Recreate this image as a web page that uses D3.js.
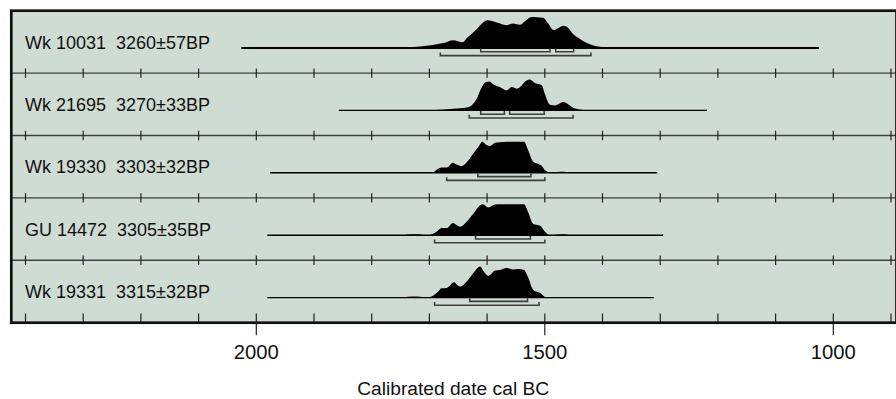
<!DOCTYPE html>
<html>
<head>
<meta charset="utf-8">
<script src="https://cdn.jsdelivr.net/npm/d3@7"></script>
<style>
  html, body { margin: 0; padding: 0; background: #ffffff; }
  svg { display: block; }
  text { font-family: "Liberation Sans", Arial, sans-serif; fill: #111; }
</style>
</head>
<body>
<svg id="chart" width="896" height="399"></svg>
<script>
// Radiocarbon samples, top to bottom
const labs = ["Wk 10031", "Wk 21695", "Wk 19330", "GU 14472", "Wk 19331"];
const ages = ["3260±57BP", "3270±33BP", "3303±32BP", "3305±35BP", "3315±32BP"];

// Calibrated probability curves: [year cal BC, relative probability]
const probWk10031 = [[1760,0],[1742,0.5],[1716,1.5],[1694,3],[1676,5],[1659,8],[1642,6],[1635,10.3],[1618,19.3],[1607,26],[1600,28.3],[1583,26],[1566,23.3],[1555,25],[1543,23.7],[1534,27.7],[1523,31.7],[1503,31],[1494,25],[1485,18.3],[1477,20.3],[1468,22.7],[1459,20.3],[1451,14.3],[1439,9.3],[1427,5],[1410,1.7],[1393,0.5],[1382,0]];
const probWk21695 = [[1700,0],[1690,0.3],[1659,1.7],[1635,3],[1627,5],[1618,11.7],[1609,23.3],[1602,28.3],[1596,29],[1589,26],[1578,23.3],[1566,20],[1557,23.3],[1549,21.7],[1540,25],[1533,29.3],[1526,31],[1517,27.3],[1505,25],[1500,16.7],[1491,5.7],[1482,5],[1468,8.3],[1459,6],[1451,2.7],[1436,0.7],[1422,0]];
const probWk19330 = [[1745,0],[1730,0.8],[1712,0.8],[1695,0],[1687,3.3],[1679,5.3],[1670,5.3],[1659,10],[1653,8.3],[1644,6.7],[1633,12],[1624,19.3],[1615,26],[1608,31],[1601,27.7],[1595,26.7],[1586,30],[1572,30.7],[1555,31],[1536,31],[1529,22.7],[1520,11],[1511,8.7],[1505,6.7],[1500,2.7],[1491,0.3],[1481,0.5],[1474,1],[1462,0.7],[1451,0]];
const probGU14472 = [[1745,0],[1730,1],[1716,0.8],[1703,0],[1687,3.7],[1679,7],[1670,7],[1659,12],[1653,10],[1647,8.3],[1635,13.3],[1624,21],[1612,29.3],[1607,30.3],[1598,27],[1586,30],[1572,30.3],[1555,30.3],[1536,30.3],[1529,22.7],[1520,11],[1508,9.3],[1500,3.7],[1491,0],[1481,0.5],[1468,1],[1456,0]];
const probWk19331 = [[1745,0],[1730,1],[1716,0.8],[1703,0],[1686,5.3],[1679,9.3],[1670,9.7],[1657,15.3],[1652,12.7],[1646,11],[1635,16.3],[1624,24.3],[1612,31],[1607,27],[1598,21.7],[1586,27],[1578,27.7],[1566,29.7],[1555,28],[1546,28.7],[1536,27.7],[1529,20.3],[1520,7.7],[1508,4.7],[1497,0.3],[1481,0.3],[1468,0.5],[1456,0]];
const probs = [probWk10031, probWk21695, probWk19330, probGU14472, probWk19331];

// Span of the calibrated distribution line for each sample
const spanStart = [2026, 1857, 1976, 1981, 1981];
const spanEnd   = [1025, 1219, 1305, 1295, 1311];

// 68.2% ranges (upper brackets) and 95.4% ranges (lower brackets)
const range68 = [
  [[1611, 1491], [1481, 1450]],
  [[1611, 1570], [1561, 1501]],
  [[1616, 1524]],
  [[1620, 1525]],
  [[1630, 1530]]
];
const range95 = [
  [[1681, 1420]],
  [[1631, 1451]],
  [[1670, 1500]],
  [[1691, 1500]],
  [[1691, 1510]]
];

// Axis ticks
const minorTicks = d3.range(2400, 899, -100);
const labelTicks = [2000, 1500, 1000];
const axisTitle = "Calibrated date cal BC";

const svg = d3.select("#chart");

const frameL = 11.3, frameR = 896.5, frameT = 10.7, frameB = 322.7;
const rowH = (frameB - frameT) / labs.length;
const peakH = 31;

const x = d3.scaleLinear().domain([2000, 1000]).range([256.3, 833.3]);

// Plot background
svg.append("rect")
  .attr("x", frameL).attr("y", frameT)
  .attr("width", frameR - frameL).attr("height", frameB - frameT)
  .attr("fill", "#cfdcd3");

labs.forEach((lab, i) => {
  const rowTop = frameT + i * rowH;
  const base = rowTop + 37.3;
  const g = svg.append("g");

  // separator line with crossing ticks
  if (i > 0) {
    g.append("line")
      .attr("x1", frameL).attr("x2", frameR)
      .attr("y1", rowTop).attr("y2", rowTop)
      .attr("stroke", "#3c423f").attr("stroke-width", 1.4);
    g.selectAll("line.tk").data(minorTicks).join("line")
      .attr("class", "tk")
      .attr("x1", d => x(d)).attr("x2", d => x(d))
      .attr("y1", rowTop - 4.7).attr("y2", rowTop + 4.7)
      .attr("stroke", "#222").attr("stroke-width", 1.2);
  }

  // label
  g.append("text")
    .attr("x", 25).attr("y", base + 0.6)
    .attr("font-size", 18)
    .style("white-space", "pre")
    .text(lab + "  " + ages[i]);

  // distribution span line
  g.append("line")
    .attr("x1", x(spanStart[i])).attr("x2", x(spanEnd[i]))
    .attr("y1", base).attr("y2", base)
    .attr("stroke", "#000").attr("stroke-width", i === 0 ? 2.2 : 1.4);

  // probability distribution
  const data = probs[i];
  const maxP = d3.max(data, d => d[1]);
  const hy = d3.scaleLinear().domain([0, maxP]).range([base, base - peakH]);
  const area = d3.area()
    .x(d => x(d[0]))
    .y0(base)
    .y1(d => hy(d[1]))
    .curve(d3.curveMonotoneX);
  g.append("path")
    .attr("d", area(data))
    .attr("fill", "#000");

  // range brackets
  const bracket = (r, yy) => {
    const x1 = x(r[0]), x2 = x(r[1]);
    return `M${x1},${yy - 3.2}L${x1},${yy}L${x2},${yy}L${x2},${yy - 3.2}`;
  };
  range68[i].forEach(r => {
    g.append("path").attr("d", bracket(r, base + 3.8))
      .attr("fill", "none").attr("stroke", "#3f3f3f").attr("stroke-width", 1.6);
  });
  range95[i].forEach(r => {
    g.append("path").attr("d", bracket(r, base + 7.6))
      .attr("fill", "none").attr("stroke", "#3f3f3f").attr("stroke-width", 1.6);
  });
});

// Bottom axis ticks (inside the frame)
svg.selectAll("line.btk").data(minorTicks).join("line")
  .attr("class", "btk")
  .attr("x1", d => x(d)).attr("x2", d => x(d))
  .attr("y1", frameB - 9.2).attr("y2", frameB)
  .attr("stroke", "#222").attr("stroke-width", 1.2);

// Labelled ticks extend below the frame
svg.selectAll("line.ltk").data(labelTicks).join("line")
  .attr("class", "ltk")
  .attr("x1", d => x(d)).attr("x2", d => x(d))
  .attr("y1", frameB).attr("y2", frameB + 12.5)
  .attr("stroke", "#222").attr("stroke-width", 1.2);

svg.selectAll("text.tl").data(labelTicks).join("text")
  .attr("class", "tl")
  .attr("x", d => x(d)).attr("y", 359)
  .attr("text-anchor", "middle")
  .attr("font-size", 20.3)
  .text(d => d);

svg.append("text")
  .attr("x", (frameL + 895) / 2).attr("y", 395)
  .attr("text-anchor", "middle")
  .attr("font-size", 19.2)
  .text(axisTitle);

// Frame
svg.append("rect")
  .attr("x", frameL).attr("y", frameT)
  .attr("width", frameR - frameL).attr("height", frameB - frameT)
  .attr("fill", "none")
  .attr("stroke", "#111").attr("stroke-width", 2.7);
</script>
</body>
</html>
